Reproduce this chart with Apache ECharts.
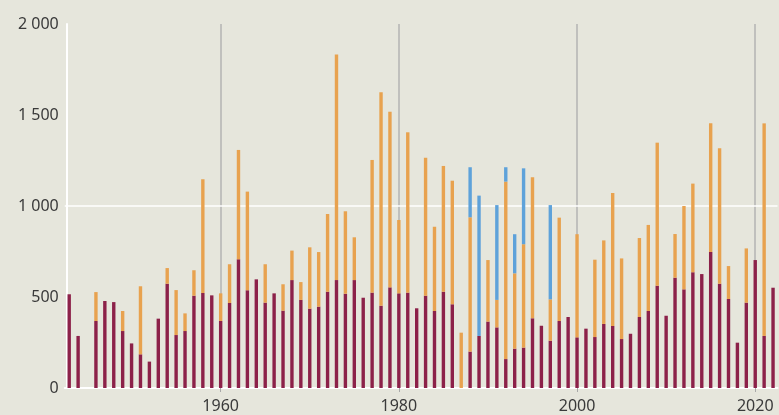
<!DOCTYPE html>
<html>
<head>
<meta charset="utf-8">
<script src="https://cdn.jsdelivr.net/npm/echarts@6/dist/echarts.min.js"></script>
<style>
html,body{margin:0;padding:0;background:#e6e6dc;}
#chart{width:779px;height:415px;}
</style>
</head>
<body>
<div id="chart"></div>
<script>
const years = ['1943','1944','1945','1946','1947','1948','1949','1950','1951','1952','1953','1954','1955','1956','1957','1958','1959','1960','1961','1962','1963','1964','1965','1966','1967','1968','1969','1970','1971','1972','1973','1974','1975','1976','1977','1978','1979','1980','1981','1982','1983','1984','1985','1986','1987','1988','1989','1990','1991','1992','1993','1994','1995','1996','1997','1998','1999','2000','2001','2002','2003','2004','2005','2006','2007','2008','2009','2010','2011','2012','2013','2014','2015','2016','2017','2018','2019','2020','2021','2022'];

const maroonValues = [515,286,null,368,478,472,313,245,185,145,381,573,291,313,507,522,509,368,467,707,537,597,469,520,425,593,484,436,447,529,593,518,593,496,524,452,553,520,524,438,507,423,529,460,0,200,286,365,333,159,216,222,383,342,260,368,390,278,326,280,352,341,269,298,390,423,562,397,606,542,636,626,747,573,489,249,469,703,286,551];

const orangeValues = [0,0,null,159,0,0,110,0,374,0,0,86,247,97,140,625,0,152,213,601,542,0,211,0,145,162,98,337,300,427,1240,453,235,0,729,1173,965,403,881,0,758,463,691,679,304,738,0,338,151,975,414,568,775,0,227,568,0,567,0,425,459,730,443,0,434,473,786,0,240,458,487,0,707,744,181,0,298,0,1168,0];

const blueValues = [0,0,null,0,0,0,0,0,0,0,0,0,0,0,0,0,0,0,0,0,0,0,0,0,0,0,0,0,0,0,0,0,0,0,0,0,0,0,0,0,0,0,0,0,0,275,771,0,521,79,215,417,0,0,518,0,0,0,0,0,0,0,0,0,0,0,0,0,0,0,0,0,0,0,0,0,0,0,0,0];

const decadeMarks = ['1960','1980','2000','2020'];
const yTickLabels = {0:'0',500:'500',1000:'1 000',1500:'1 500',2000:'2 000'};

const chart = echarts.init(document.getElementById('chart'));
const fontFamily = '"Noto Sans", sans-serif';
const barW = 3.4;

chart.setOption({
  backgroundColor: '#e6e6dc',
  animation: false,
  grid: {left: 64.75, right: 1.5, top: 24, bottom: 27, containLabel: false},
  xAxis: {
    type: 'category',
    data: years,
    boundaryGap: true,
    axisLine: {show: true, lineStyle: {color: '#ffffff', width: 2}},
    axisTick: {
      show: true, alignWithLabel: true, length: 4,
      interval: (i, v) => decadeMarks.indexOf(v) >= 0,
      lineStyle: {color: '#a8a8a8', width: 1}
    },
    axisLabel: {
      interval: (i, v) => decadeMarks.indexOf(v) >= 0,
      color: '#3a3a3a', fontSize: 16, fontFamily: fontFamily, margin: 10
    },
    splitLine: {show: false}
  },
  yAxis: {
    type: 'value', min: 0, max: 2000, interval: 500,
    offset: -2,
    axisLine: {show: true, lineStyle: {color: '#ffffff', width: 2}},
    axisTick: {show: false},
    splitLine: {show: false},
    axisLabel: {
      color: '#3a3a3a', fontSize: 16, fontFamily: fontFamily, margin: 8,
      formatter: v => yTickLabels[v]
    }
  },
  series: [
    {
      type: 'line', data: [], z: 1, silent: true,
      markLine: {
        silent: true, symbol: 'none', label: {show: false}, z: 1,
        data: decadeMarks.map(y => ({xAxis: y, lineStyle: {color: '#b3b3b3', width: 1.5, type: 'solid'}}))
          .concat([{yAxis: 1000, lineStyle: {color: '#ffffff', width: 1.5, type: 'solid'}}])
      }
    },
    {type: 'bar', stack: 'a', data: maroonValues, barWidth: barW, z: 3, itemStyle: {color: '#8c2149'}},
    {type: 'bar', stack: 'a', data: orangeValues, barWidth: barW, z: 3, itemStyle: {color: '#e8a24f'}},
    {type: 'bar', stack: 'a', data: blueValues, barWidth: barW, z: 3, itemStyle: {color: '#5ea2da'}}
  ]
});
</script>
</body>
</html>
